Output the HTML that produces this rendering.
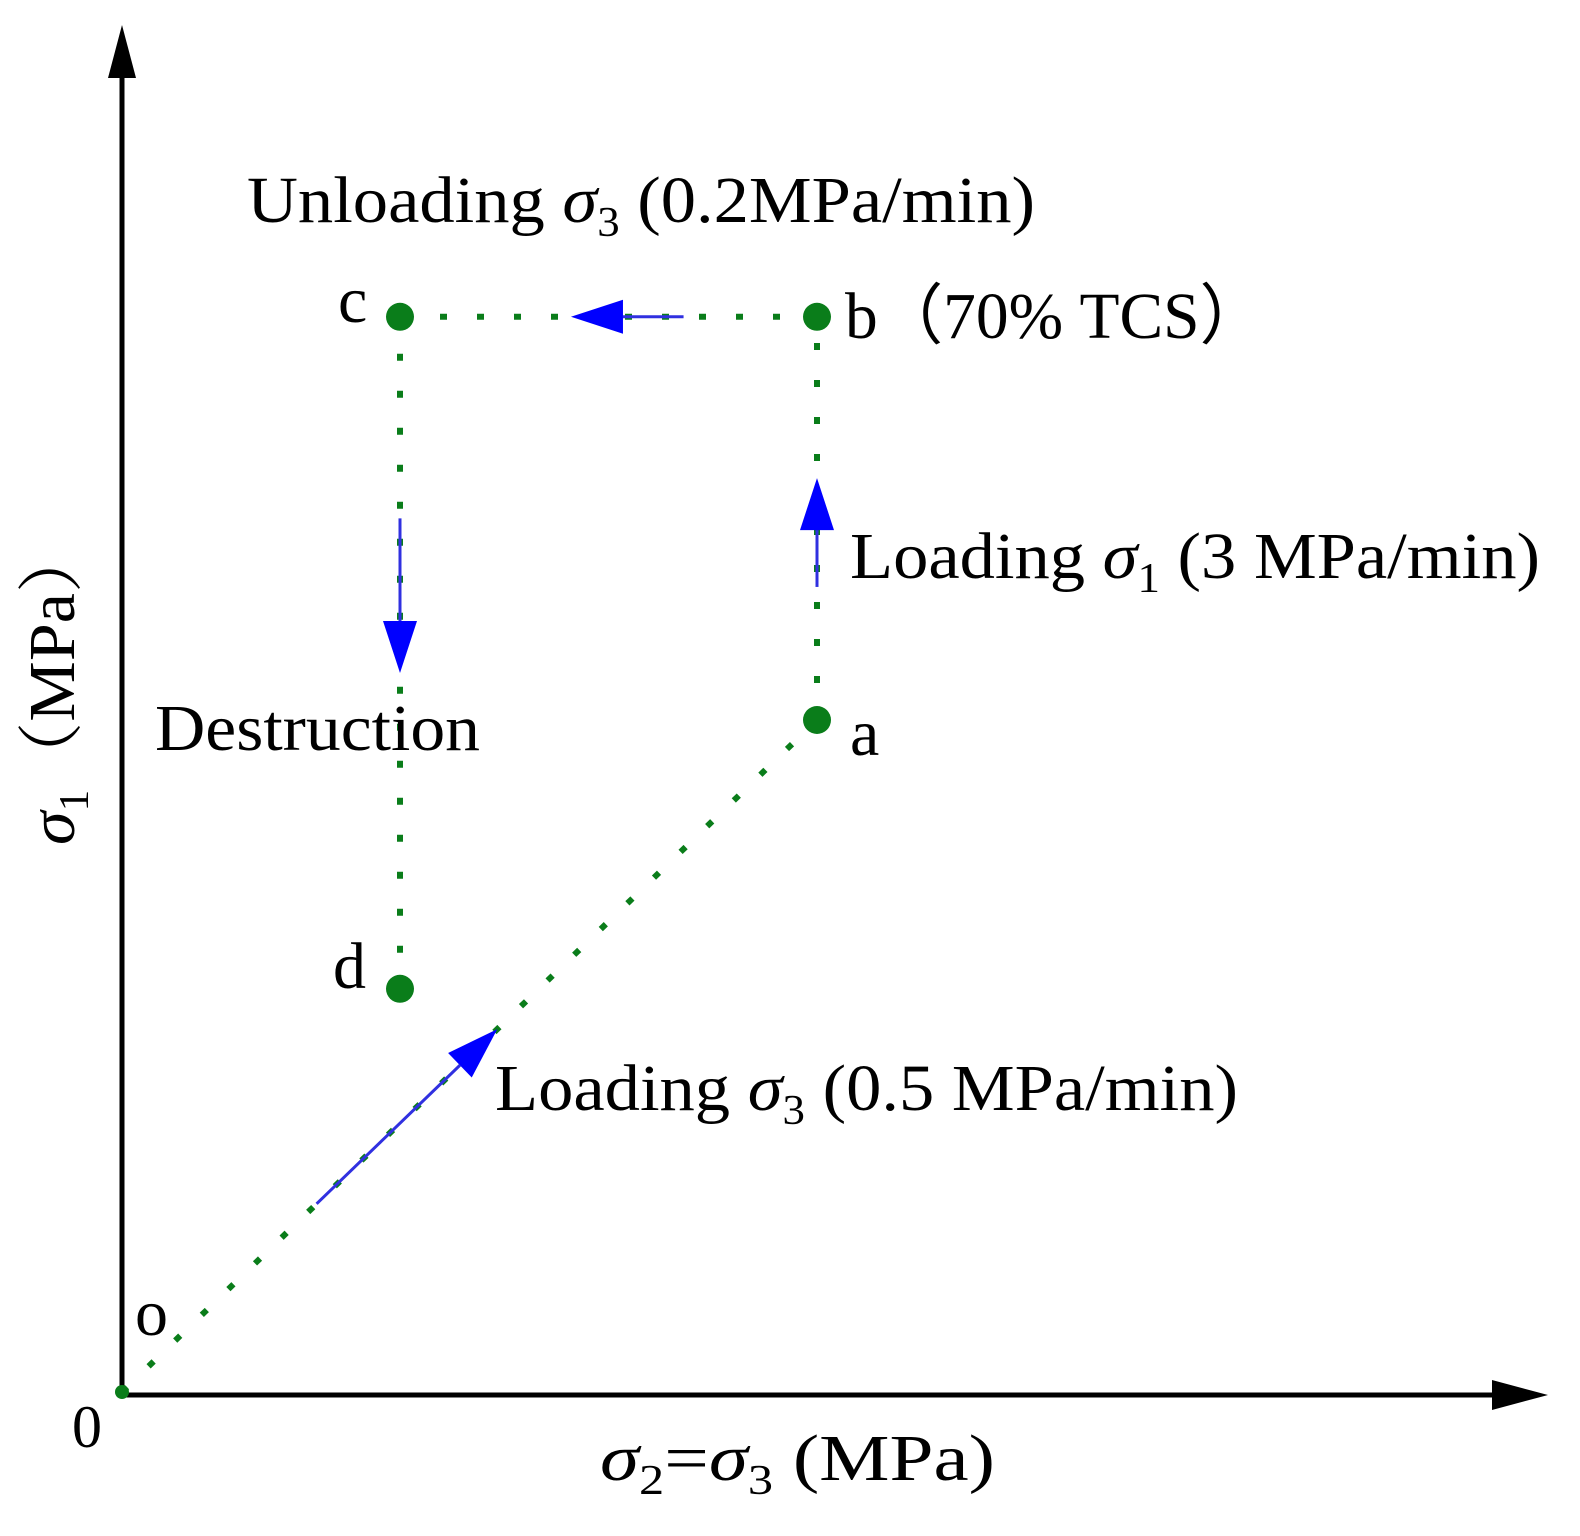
<!DOCTYPE html>
<html><head><meta charset="utf-8">
<style>
html,body{margin:0;padding:0;background:#fff;}
svg{display:block;}
text{font-family:"Liberation Serif",serif;fill:#000;}
</style></head>
<body>
<svg id="chart" width="1580" height="1536" viewBox="0 0 1580 1536" xmlns="http://www.w3.org/2000/svg">
<g id="axes">
  <line x1="122" y1="1395" x2="122" y2="60" stroke="#000" stroke-width="5"/>
  <polygon points="122,25 108,78 136,78" fill="#000"/>
  <line x1="120" y1="1395" x2="1505" y2="1395" stroke="#000" stroke-width="5"/>
  <polygon points="1548,1395 1492,1380 1492,1410" fill="#000"/>
  <text x="72" y="1447" font-size="60">0</text>
  <text x="600" y="1480" font-size="66" textLength="395" lengthAdjust="spacingAndGlyphs"><tspan font-style="italic">σ</tspan><tspan font-size="42" dy="14">2</tspan><tspan dy="-14">=</tspan><tspan font-style="italic">σ</tspan><tspan font-size="42" dy="14">3</tspan><tspan dy="-14"> (MPa)</tspan></text>
  <text transform="translate(74,845) rotate(-90)" font-size="66" textLength="320" lengthAdjust="spacingAndGlyphs"><tspan font-style="italic">σ</tspan><tspan font-size="42" dy="14">1</tspan><tspan dy="-14" font-family="Liberation Serif, Noto Serif CJK SC, serif">（MPa）</tspan></text>
</g>
<g id="paths"></g>
<g id="arrows"></g>
<g id="labels">
  <text x="247" y="222" font-size="66" textLength="788" lengthAdjust="spacingAndGlyphs">Unloading <tspan font-style="italic">σ</tspan><tspan font-size="42" dy="14">3</tspan><tspan dy="-14"> (0.2MPa/min)</tspan></text>
  <text x="850" y="578" font-size="66" textLength="690" lengthAdjust="spacingAndGlyphs">Loading <tspan font-style="italic">σ</tspan><tspan font-size="42" dy="14">1</tspan><tspan dy="-14"> (3 MPa/min)</tspan></text>
  <text x="155" y="750" font-size="66" textLength="325" lengthAdjust="spacingAndGlyphs">Destruction</text>
  <text x="495" y="1110" font-size="66" textLength="743" lengthAdjust="spacingAndGlyphs">Loading <tspan font-style="italic">σ</tspan><tspan font-size="42" dy="14">3</tspan><tspan dy="-14"> (0.5 MPa/min)</tspan></text>
  <text x="845" y="338" font-size="66" textLength="420" lengthAdjust="spacingAndGlyphs" font-family="Liberation Serif, Noto Serif CJK SC, serif">b（70% TCS）</text>
  <text x="338" y="322" font-size="66">c</text>
  <text x="850" y="755" font-size="66">a</text>
  <text x="333" y="988" font-size="66">d</text>
  <text x="135" y="1335" font-size="66">o</text>
</g>
</svg>
<script>
const pointNames = ["o","a","b","c","d"];
const pointX = [0, 5, 5, 2, 2];
const pointY = [0, 10, 16, 16, 6];
// arrows along segments: [from index, to index, tail fraction, tip fraction]
const arrowFrom = [0, 1, 2, 3];
const arrowTo = [1, 2, 3, 4];
const arrowTail = [0.28, 0.33, 0.32, 0.30];
const arrowTip = [0.54, 0.60, 0.59, 0.53];

const NS = "http://www.w3.org/2000/svg";
const sx = v => 122 + v * 139;
const sy = v => 1392 - v * 67.2;
const gP = document.getElementById("paths");
const gA = document.getElementById("arrows");

for (let i = 0; i < pointNames.length - 1; i++) {
  const l = document.createElementNS(NS, "line");
  l.setAttribute("x1", sx(pointX[i])); l.setAttribute("y1", sy(pointY[i]));
  l.setAttribute("x2", sx(pointX[i+1])); l.setAttribute("y2", sy(pointY[i+1]));
  l.setAttribute("stroke", "#0a7d1a"); l.setAttribute("stroke-width", "6");
  l.setAttribute("stroke-dasharray", "7 30");
  
  
  gP.appendChild(l);
}
for (let i = 0; i < pointNames.length; i++) {
  const c = document.createElementNS(NS, "circle");
  c.setAttribute("cx", sx(pointX[i])); c.setAttribute("cy", sy(pointY[i]));
  c.setAttribute("r", i === 0 ? 7 : 14); c.setAttribute("fill", "#0a7d1a");
  
  
  gP.appendChild(c);
}
for (let k = 0; k < arrowFrom.length; k++) {
  const x1 = sx(pointX[arrowFrom[k]]), y1 = sy(pointY[arrowFrom[k]]);
  const x2 = sx(pointX[arrowTo[k]]), y2 = sy(pointY[arrowTo[k]]);
  const tx = x1 + (x2 - x1) * arrowTail[k], ty = y1 + (y2 - y1) * arrowTail[k];
  const hx = x1 + (x2 - x1) * arrowTip[k], hy = y1 + (y2 - y1) * arrowTip[k];
  const len = Math.hypot(hx - tx, hy - ty), ux = (hx - tx) / len, uy = (hy - ty) / len;
  const bx = hx - ux * 52, by = hy - uy * 52;
  const l = document.createElementNS(NS, "line");
  l.setAttribute("x1", tx); l.setAttribute("y1", ty); l.setAttribute("x2", bx); l.setAttribute("y2", by);
  l.setAttribute("stroke", "#3030e0"); l.setAttribute("stroke-width", "3");
  
  
  gA.appendChild(l);
  const p = document.createElementNS(NS, "polygon");
  p.setAttribute("points", `${hx},${hy} ${bx - uy*17},${by + ux*17} ${bx + uy*17},${by - ux*17}`);
  p.setAttribute("fill", "#0000ff");
  
  
  gA.appendChild(p);
}
</script>
</body></html>
